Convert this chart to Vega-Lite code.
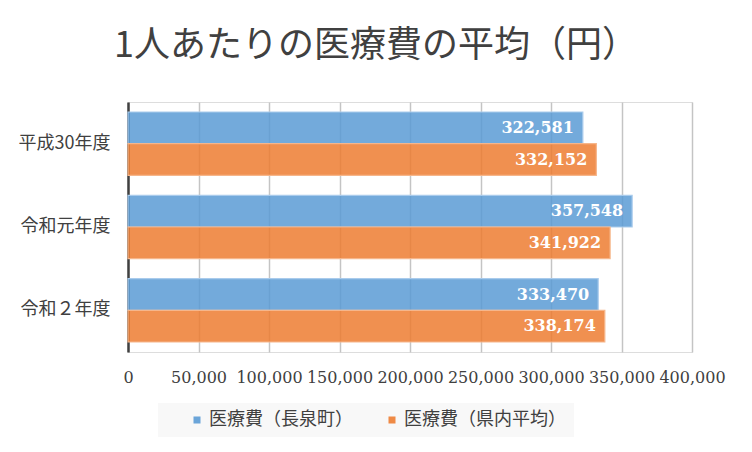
{
  "$schema": "https://vega.github.io/schema/vega-lite/v6.json",
  "width": 564,
  "height": 250,
  "autosize": {"type": "none"},
  "padding": {"left": 128, "top": 102, "right": 60, "bottom": 100},
  "background": "white",
  "title": {
    "text": "1人あたりの医療費の平均（円）",
    "font": "Noto Sans CJK JP",
    "fontSize": 36,
    "fontWeight": "normal",
    "color": "#404040",
    "anchor": "middle",
    "dx": -34,
    "offset": 37
  },
  "config": {
    "axisY": {
      "labelFont": "Noto Sans CJK JP",
      "labelFontSize": 18,
      "labelColor": "#404040",
      "labelPadding": 18,
      "ticks": false,
      "domainColor": "#404040",
      "domainWidth": 2.5,
      "grid": false
    },
    "axisX": {
      "labelFont": "DejaVu Serif",
      "labelFontSize": 16,
      "labelColor": "#404040",
      "labelPadding": 17,
      "labelOverlap": false,
      "labelFlush": false,
      "ticks": false,
      "domain": false,
      "grid": true,
      "gridColor": "#c4c4c4",
      "gridWidth": 1.5
    }
  },
  "data": {
    "values": [
      {"year": "平成30年度", "series": "医療費（長泉町）", "value": 322581},
      {"year": "平成30年度", "series": "医療費（県内平均）", "value": 332152},
      {"year": "令和元年度", "series": "医療費（長泉町）", "value": 357548},
      {"year": "令和元年度", "series": "医療費（県内平均）", "value": 341922},
      {"year": "令和２年度", "series": "医療費（長泉町）", "value": 333470},
      {"year": "令和２年度", "series": "医療費（県内平均）", "value": 338174}
    ]
  },
  "encoding": {
    "y": {
      "field": "year",
      "type": "nominal",
      "sort": ["平成30年度", "令和元年度", "令和２年度"],
      "scale": {"paddingInner": 0.24, "paddingOuter": 0.12},
      "axis": {"title": null}
    },
    "yOffset": {
      "field": "series",
      "type": "nominal",
      "sort": ["医療費（長泉町）", "医療費（県内平均）"]
    },
    "x": {
      "field": "value",
      "type": "quantitative",
      "scale": {"domain": [0, 400000], "nice": false},
      "axis": {
        "title": null,
        "values": [0, 50000, 100000, 150000, 200000, 250000, 300000, 350000, 400000],
        "format": ",.0f"
      }
    }
  },
  "layer": [
    {
      "mark": {"type": "bar", "fillOpacity": 0.85, "strokeWidth": 1.2},
      "encoding": {
        "color": {
          "field": "series",
          "type": "nominal",
          "sort": ["医療費（長泉町）", "医療費（県内平均）"],
          "scale": {"range": ["#5b9bd5", "#ed7d31"]},
          "legend": {
            "title": null,
            "orient": "none",
            "legendX": 30,
            "legendY": 301,
            "direction": "horizontal",
            "fillColor": "#f8f8f8",
            "padding": 8,
            "symbolType": "square",
            "symbolSize": 49,
            "symbolOpacity": 0.9,
            "symbolStrokeWidth": 0,
            "symbolOffset": 22,
            "labelFont": "Noto Sans CJK JP",
            "labelFontSize": 18,
            "labelLimit": 300,
            "labelColor": "#404040",
            "labelOffset": 3,
            "columnPadding": 8
          }
        },
        "stroke": {
          "field": "series",
          "type": "nominal",
          "sort": ["医療費（長泉町）", "医療費（県内平均）"],
          "scale": {"range": ["#a9cbec", "#f6b68b"]},
          "legend": null
        }
      }
    },
    {
      "mark": {
        "type": "text",
        "align": "right",
        "baseline": "middle",
        "dx": -9,
        "font": "DejaVu Serif",
        "fontSize": 16,
        "fontWeight": "bold",
        "fill": "white"
      },
      "encoding": {
        "text": {"field": "value", "type": "quantitative", "format": ","}
      }
    }
  ]
}
